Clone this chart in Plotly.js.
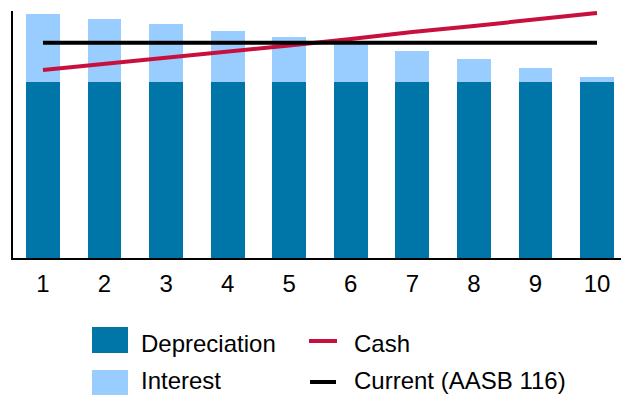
<!DOCTYPE html>
<html>
<head>
<meta charset="utf-8">
<script src="https://cdn.plot.ly/plotly-3.0.1.min.js"></script>
<style>html,body{margin:0;padding:0;background:#fff;}#chart{width:621px;height:395px;}</style>
</head>
<body>
<div id="chart"></div>
<script>
// Data
var years = [1, 2, 3, 4, 5, 6, 7, 8, 9, 10];
var tickLabels = ["1", "2", "3", "4", "5", "6", "7", "8", "9", "10"];
var depreciation = [100, 100, 100, 100, 100, 100, 100, 100, 100, 100];
var interest = [38.6, 35.8, 32.8, 29.1, 25.6, 21.9, 17.6, 13.1, 8.0, 2.8];
var cash = [106.8, 110.2, 113.4, 117.0, 120.7, 124.4, 128.4, 131.8, 135.5, 139.2];
var current = [122.3, 122.3, 122.3, 122.3, 122.3, 122.3, 122.3, 122.3, 122.3, 122.3];

var W = 621, H = 395;
var M = {l: 13, r: 0, t: 11, b: 137};
var plotW = W - M.l - M.r, plotH = H - M.t - M.b;
function px(x) { return (x - M.l) / plotW; }
function py(y) { return (H - M.b - y) / plotH; }

var FONT = "Liberation Sans, Arial, sans-serif";
var colDep = "#0076a8", colInt = "#99ccff", colCash = "#c8103e", colCur = "#000000";

var traces = [
  {type: "bar", x: years, y: depreciation, name: "Depreciation", marker: {color: colDep}, hoverinfo: "skip"},
  {type: "bar", x: years, y: interest, name: "Interest", marker: {color: colInt}, hoverinfo: "skip"},
  {type: "scatter", mode: "lines", x: years, y: cash, name: "Cash", line: {color: colCash, width: 4}, hoverinfo: "skip"},
  {type: "scatter", mode: "lines", x: years, y: current, name: "Current (AASB 116)", line: {color: colCur, width: 4}, hoverinfo: "skip"}
];

var legendItems = [
  {kind: "rect", color: colDep, text: "Depreciation", sx0: 92, sx1: 128, sy0: 327, sy1: 353, tx: 140, ty: 343},
  {kind: "rect", color: colInt, text: "Interest", sx0: 92, sx1: 128, sy0: 370, sy1: 396, tx: 140, ty: 380},
  {kind: "line", color: colCash, text: "Cash", sx0: 309, sx1: 337, sy0: 341, sy1: 341, tx: 353, ty: 343},
  {kind: "line", color: colCur, text: "Current (AASB 116)", sx0: 310, sx1: 336, sy0: 382, sy1: 382, tx: 353, ty: 380}
];

var shapes = [], annotations = [];
legendItems.forEach(function (it) {
  if (it.kind === "rect") {
    shapes.push({type: "rect", xref: "paper", yref: "paper", x0: px(it.sx0), x1: px(it.sx1), y0: py(it.sy1), y1: py(it.sy0),
      fillcolor: it.color, line: {width: 0}});
  } else {
    shapes.push({type: "line", xref: "paper", yref: "paper", x0: px(it.sx0), x1: px(it.sx1), y0: py(it.sy0), y1: py(it.sy1),
      line: {color: it.color, width: 4}});
  }
  annotations.push({xref: "paper", yref: "paper", x: px(it.tx), y: py(it.ty), xanchor: "left", yanchor: "middle",
    borderpad: 0, text: it.text, showarrow: false, font: {family: FONT, size: 24, color: "#000"}});
});

var layout = {
  width: W, height: H,
  margin: M,
  paper_bgcolor: "#fff", plot_bgcolor: "#fff",
  barmode: "stack",
  bargap: 0.45,
  showlegend: false,
  xaxis: {
    range: [0.513, 10.39], tickmode: "array", tickvals: years, ticktext: tickLabels,
    showgrid: false, zeroline: false, showline: true, linecolor: "#000", linewidth: 2,
    ticks: "", tickfont: {family: FONT, size: 24, color: "#000"}, ticklabelstandoff: 3,
    fixedrange: true
  },
  yaxis: {
    range: [0, 140.3], showgrid: false, zeroline: false, showline: true, linecolor: "#000", linewidth: 2,
    showticklabels: false, ticks: "", fixedrange: true
  },
  shapes: shapes,
  annotations: annotations
};

Plotly.newPlot("chart", traces, layout, {staticPlot: true, displayModeBar: false});
</script>
</body>
</html>
